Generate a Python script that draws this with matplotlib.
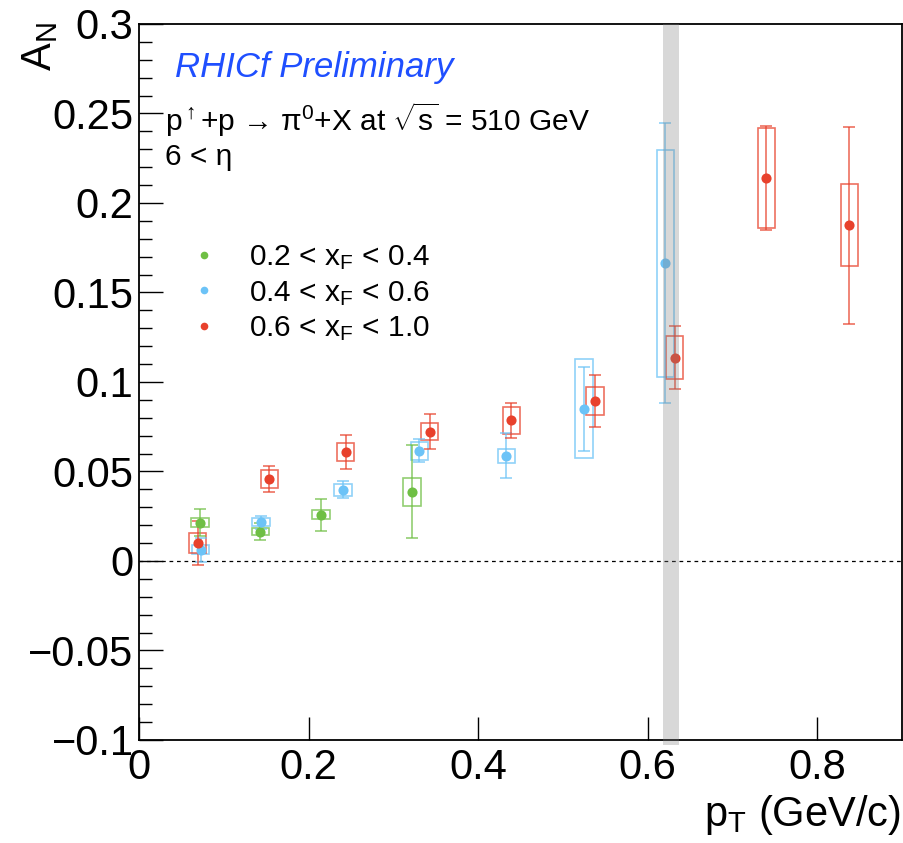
import matplotlib
matplotlib.use("Agg")
import matplotlib.pyplot as plt
from matplotlib.patches import Rectangle
from matplotlib.lines import Line2D
from matplotlib.ticker import MultipleLocator

# --- fonts (ROOT-like Helvetica look) ---
plt.rcParams['font.family'] = ['Liberation Sans', 'DejaVu Sans']
plt.rcParams['mathtext.fontset'] = 'custom'
plt.rcParams['mathtext.rm'] = 'Liberation Sans'
plt.rcParams['mathtext.it'] = 'Liberation Sans:italic'

# --- data: A_N vs pT for three xF bins (value, stat err, sys err) ---
labels = [r'0.2 < $\mathregular{x_F}$ < 0.4',
          r'0.4 < $\mathregular{x_F}$ < 0.6',
          r'0.6 < $\mathregular{x_F}$ < 1.0']

pt_low = [0.072, 0.143, 0.2145, 0.322]
an_low = [0.0214, 0.0164, 0.0258, 0.0386]
stat_low = [0.0075, 0.0047, 0.009, 0.026]
sys_low = [0.0025, 0.002, 0.0025, 0.008]

pt_mid = [0.0728, 0.144, 0.2405, 0.3306, 0.4333, 0.525, 0.621]
an_mid = [0.0064, 0.0217, 0.0397, 0.0616, 0.0588, 0.0851, 0.1664]
stat_mid = [0.0067, 0.0037, 0.0047, 0.0065, 0.0127, 0.0235, 0.078]
sys_mid = [0.0024, 0.0022, 0.0034, 0.005, 0.004, 0.0275, 0.0634]

pt_high = [0.069, 0.1535, 0.2436, 0.3428, 0.439, 0.538, 0.6317, 0.740, 0.838]
an_high = [0.0099, 0.0459, 0.0608, 0.0722, 0.0785, 0.0894, 0.1136, 0.2139, 0.1876]
stat_high = [0.0124, 0.0072, 0.0093, 0.0098, 0.0097, 0.0143, 0.0178, 0.029, 0.055]
sys_high = [0.0057, 0.0049, 0.005, 0.0048, 0.0075, 0.0078, 0.012, 0.0278, 0.023]

# excluded pT region (gray band)
band = (0.6175, 0.6375)

yticks = [-0.1, -0.05, 0, 0.05, 0.1, 0.15, 0.2, 0.25, 0.3]
ytick_labels = ['\u22120.1', '\u22120.05', '0', '0.05', '0.1', '0.15', '0.2', '0.25', '0.3']
xticks = [0, 0.2, 0.4, 0.6, 0.8]
xtick_labels = ['0', '0.2', '0.4', '0.6', '0.8']

# --- style ---
COLORS = ['#6fbf44', '#6cc3f7', '#e8412c']
BOX_HALF_WIDTH = 0.0102

series = [
    (pt_low, an_low, stat_low, sys_low),
    (pt_mid, an_mid, stat_mid, sys_mid),
    (pt_high, an_high, stat_high, sys_high),
]

fig = plt.figure(figsize=(9.04, 8.43), dpi=100)
ax = fig.add_axes([0.1538, 0.1222, 0.844, 0.8494])

for (pt, an, stat, sys), color in zip(series, COLORS):
    # systematic boxes
    for x, y, s in zip(pt, an, sys):
        ax.add_patch(Rectangle((x - BOX_HALF_WIDTH, y - s), 2 * BOX_HALF_WIDTH, 2 * s,
                               fill=False, edgecolor=color, lw=1.2, alpha=0.75, zorder=2))
    # statistical errors
    ax.errorbar(pt, an, yerr=stat, fmt='none', ecolor=color, elinewidth=1.2,
                capsize=4.5, capthick=1.2, alpha=0.75, zorder=3)
    ax.plot(pt, an, 'o', color=color, markersize=7.3, markeredgewidth=0, zorder=4)

# zero line
ax.axhline(0, color='black', lw=0.9, ls=(0, (3, 3)), zorder=1)

# gray band drawn on top, semi-transparent, poking a little below the frame
ax.axvspan(band[0], band[1], ymin=-0.007, ymax=1, color='#808080', alpha=0.3, lw=0,
           zorder=5, clip_on=False)

ax.set_xlim(0, 0.9)
ax.set_ylim(-0.1, 0.3)

ax.set_yticks(yticks)
ax.set_yticklabels(ytick_labels)
ax.yaxis.set_minor_locator(MultipleLocator(0.01))
ax.set_xticks(xticks)
ax.set_xticklabels(xtick_labels)

# tick lengths given in points (100 dpi: 1 px = 0.72 pt)
ax.tick_params(axis='both', which='both', direction='in', top=False, right=False,
               labelsize=30, width=1.0)
ax.tick_params(axis='y', which='major', length=17.5, pad=4)
ax.tick_params(axis='y', which='minor', length=9)
ax.tick_params(axis='x', which='major', length=16.5, pad=6)

for sp in ax.spines.values():
    sp.set_linewidth(1.3)

# axis titles
fig.text(40 / 904, 1 - 22 / 843, r'$\mathregular{A_N}$', rotation=90,
         ha='center', va='top', fontsize=30)
fig.text(901 / 904, 1 - 826 / 843, r'$\mathregular{p_T}$ (GeV/c)',
         ha='right', va='baseline', fontsize=30)

# annotations
fig.text(175 / 904, 1 - 67 / 843, 'RHICf Preliminary', color='#1f4fff',
         style='italic', fontsize=25, va='center', ha='left')
fig.text(165 / 904, 1 - 120 / 843,
         'p$\\mathregular{^{\\uparrow}}$+p \u2192 \u03c0$\\mathregular{^{0}}$+X at '
         '$\\mathregular{\\sqrt{s}}$ = 510 GeV',
         fontsize=21.5, va='center', ha='left')
fig.text(165 / 904, 1 - 157 / 843, '6 < \u03b7',
         fontsize=21.5, va='center', ha='left')

# legend
handles = [Line2D([], [], ls='none', marker='o', markersize=5.5, markeredgewidth=0, color=c)
           for c in COLORS]
ax.legend(handles, labels, loc='upper left', bbox_to_anchor=(0.05, 0.71), frameon=False,
          fontsize=21.5, handlelength=1.0, handletextpad=1.0, labelspacing=0.22,
          borderaxespad=0)

fig.savefig('out.png', dpi=100)
